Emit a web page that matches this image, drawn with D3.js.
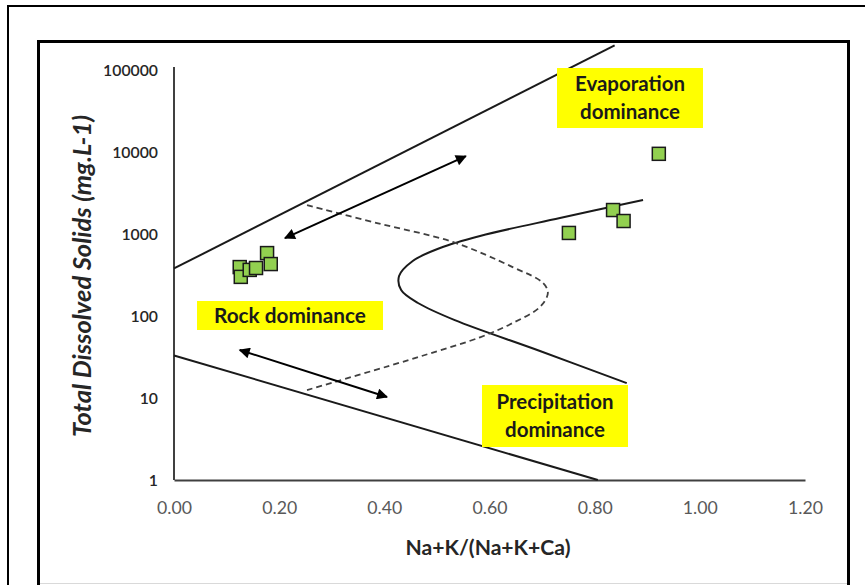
<!DOCTYPE html>
<html>
<head>
  <meta charset="utf-8">
  <title>Gibbs diagram</title>
  <script src="https://d3js.org/d3.v7.min.js"></script>
  <style>
    body { margin: 0; background: #fff; }
    svg { display: block; font-family: Lato, "Open Sans", sans-serif; }
  </style>
</head>
<body>
  <div id="chart"></div>
  <script>
    // sample points: Na+K/(Na+K+Ca) and TDS (mg/L)
    var sampleRatio = [0.125, 0.127, 0.144, 0.156, 0.177, 0.184, 0.751, 0.835, 0.855, 0.922];
    var sampleTDS   = [395,   300,   365,   385,   585,   430,   1030,  1960,  1440,  9500];

    // tick values
    var xTicks = [0, 0.2, 0.4, 0.6, 0.8, 1.0, 1.2];
    var yTicks = [1, 10, 100, 1000, 10000, 100000];

    // boundary lines (x, tds)
    var upperLineX = [0, 0.838];
    var upperLineY = [380, 200000];
    var lowerLineX = [0, 0.806];
    var lowerLineY = [33, 1];

    // solid boomerang curve
    var solidX = [0.892, 0.734, 0.582, 0.506, 0.454, 0.428, 0.432, 0.464, 0.534, 0.696, 0.861];
    var solidY = [2600,  1567,  946,   675,   469,   307,   207,   144,   89,    37.4,  15.2];

    // dashed boomerang curve
    var dashX = [0.253, 0.386, 0.530, 0.644, 0.702, 0.711, 0.696, 0.644, 0.582, 0.487, 0.430, 0.253];
    var dashY = [2250,  1360,  800,   395,   252,   191,   129,   82,    55,    35,    27,    12.5];

    // double arrows
    var arrowX = [[0.211, 0.555], [0.125, 0.405]];
    var arrowY = [[890, 8900],    [38.5, 10.3]];

    var labels = [
      {lines: ["Evaporation", "dominance"], widths: [110, 100], box: [557, 68, 146, 60]},
      {lines: ["Rock dominance"], widths: [152], box: [197, 301, 186, 29]},
      {lines: ["Precipitation", "dominance"], widths: [117, 100], box: [482, 385, 146, 62]}
    ];

    var svg = d3.select("#chart").append("svg")
      .attr("width", 865).attr("height", 585);

    // scale a text's font size so it spans a given width
    function fitText(sel, w) {
      sel.each(function(){
        var fs = parseFloat(getComputedStyle(this).fontSize);
        var len = this.getComputedTextLength();
        if (len > 0) d3.select(this).style("font-size", (fs * w / len) + "px");
      });
    }

    // frames
    svg.append("rect").attr("x", 8).attr("y", 6).attr("width", 900).attr("height", 700)
      .attr("fill", "none").attr("stroke", "#000").attr("stroke-width", 2);
    svg.append("rect").attr("x", 38.5).attr("y", 41.5).attr("width", 810).attr("height", 600)
      .attr("fill", "#fff").attr("stroke", "#000").attr("stroke-width", 3);
    svg.append("line").attr("x1", 40).attr("x2", 847).attr("y1", 583.5).attr("y2", 583.5)
      .attr("stroke", "#d9d9d9").attr("stroke-width", 1);

    var x = d3.scaleLinear().domain([0, 1.2]).range([174, 805]);
    var y = d3.scaleLog().domain([1, 100000]).range([480, 70]);

    var xAxis = svg.append("g").attr("transform", "translate(0,480)")
      .call(d3.axisBottom(x).tickValues(xTicks).tickFormat(d3.format(".2f")).tickSize(0).tickPadding(21));
    xAxis.select(".domain").attr("stroke", "#404040").attr("stroke-width", 2);
    xAxis.selectAll("text").attr("fill", "#595959").style("font-size", "15px")
      .style("font-family", "Lato, sans-serif").call(fitText, 35);

    var yAxis = svg.append("g").attr("transform", "translate(174,0)")
      .call(d3.axisLeft(y).tickValues(yTicks).tickFormat(d3.format("d")).tickSize(0).tickPadding(16));
    yAxis.select(".domain").attr("stroke", "#404040").attr("stroke-width", 2)
      .attr("d", "M0,480V67");
    yAxis.selectAll("text").attr("fill", "#262626").style("font-size", "14px")
      .style("font-weight", "600").style("font-family", "Lato, sans-serif");
    fitText(yAxis.selectAll("text").filter(function(d){ return d === 100000; }), 55);
    yAxis.selectAll("text").style("font-size", yAxis.selectAll("text").filter(function(d){ return d === 100000; }).style("font-size"));

    // axis titles
    svg.append("text").attr("x", 488).attr("y", 555).attr("text-anchor", "middle")
      .style("font-size", "17px").style("font-weight", "bold").attr("fill", "#262626")
      .text("Na+K/(Na+K+Ca)").call(fitText, 165);
    svg.append("text").attr("transform", "translate(91,276) rotate(-90)").attr("text-anchor", "middle")
      .style("font-size", "17px").style("font-weight", "bold").style("font-style", "italic")
      .attr("fill", "#262626").text("Total Dissolved Solids (mg.L-1)").call(fitText, 322);

    var line = d3.line().x(function(d){ return x(d[0]); }).y(function(d){ return y(d[1]); });
    var curve = d3.line().x(function(d){ return x(d[0]); }).y(function(d){ return y(d[1]); })
      .curve(d3.curveCatmullRom.alpha(0.5));

    function pairs(xs, ys){ return xs.map(function(v, i){ return [v, ys[i]]; }); }

    svg.append("path").attr("d", line(pairs(upperLineX, upperLineY)))
      .attr("fill", "none").attr("stroke", "#1a1a1a").attr("stroke-width", 2);
    svg.append("path").attr("d", line(pairs(lowerLineX, lowerLineY)))
      .attr("fill", "none").attr("stroke", "#1a1a1a").attr("stroke-width", 2);
    svg.append("path").attr("d", curve(pairs(solidX, solidY)))
      .attr("fill", "none").attr("stroke", "#1a1a1a").attr("stroke-width", 2);
    svg.append("path").attr("d", curve(pairs(dashX, dashY)))
      .attr("fill", "none").attr("stroke", "#404040").attr("stroke-width", 1.8)
      .attr("stroke-dasharray", "6,4");

    // arrow heads
    var defs = svg.append("defs");
    defs.append("marker").attr("id", "head").attr("viewBox", "0 0 10 10")
      .attr("refX", 9).attr("refY", 5).attr("markerWidth", 6).attr("markerHeight", 5.5)
      .attr("markerUnits", "strokeWidth").attr("orient", "auto-start-reverse")
      .append("path").attr("d", "M0,0L10,5L0,10Z").attr("fill", "#000");

    arrowX.forEach(function(ax, i){
      svg.append("path").attr("d", line(pairs(ax, arrowY[i])))
        .attr("fill", "none").attr("stroke", "#000").attr("stroke-width", 2)
        .attr("marker-start", "url(#head)").attr("marker-end", "url(#head)");
    });

    // label boxes
    labels.forEach(function(l){
      var b = l.box;
      svg.append("rect").attr("x", b[0]).attr("y", b[1]).attr("width", b[2]).attr("height", b[3])
        .attr("fill", "#ffff00");
      var lh = 28;
      var y0 = b[1] + b[3] / 2 - (l.lines.length - 1) * lh / 2 + 7;
      l.lines.forEach(function(t, j){
        svg.append("text").attr("x", b[0] + b[2] / 2).attr("y", y0 + j * lh)
          .attr("text-anchor", "middle").style("font-size", "18px").style("font-weight", "bold")
          .attr("fill", "#1a1a1a").text(t).call(fitText, l.widths[j]);
      });
    });

    // samples
    var s = 13;
    svg.selectAll("rect.sample").data(pairs(sampleRatio, sampleTDS)).enter()
      .append("rect").attr("class", "sample")
      .attr("x", function(d){ return x(d[0]) - s / 2; })
      .attr("y", function(d){ return y(d[1]) - s / 2; })
      .attr("width", s).attr("height", s)
      .attr("fill", "#92d050").attr("stroke", "#1a1a1a").attr("stroke-width", 1.5);
  </script>
</body>
</html>
